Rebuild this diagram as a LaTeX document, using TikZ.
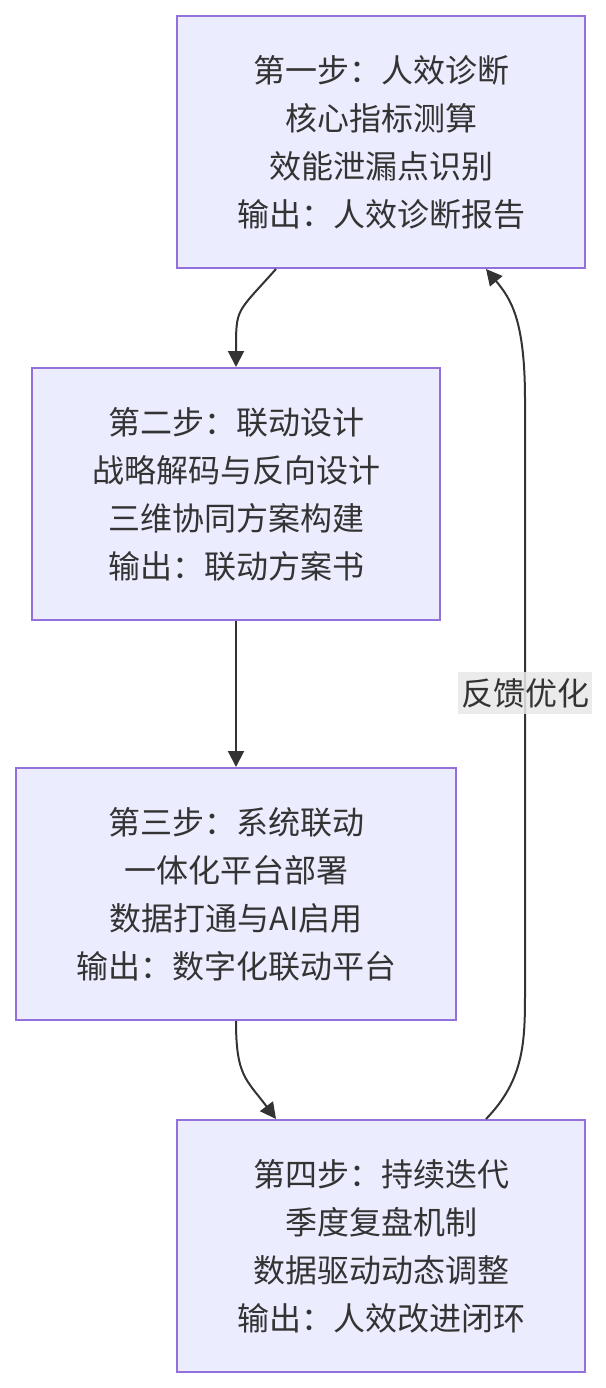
\documentclass[tikz,border=0pt]{standalone}
\usepackage{fontspec}
\usepackage{xcolor}
\usepackage{tikz}
\usetikzlibrary{arrows.meta,positioning,calc}
\newfontfamily\cjk{Noto Sans CJK SC}
\definecolor{boxfill}{HTML}{ECECFF}
\definecolor{boxdraw}{HTML}{9370DB}
\definecolor{textgray}{HTML}{333333}
\definecolor{labelgray}{HTML}{E8E8E8}

\begin{document}
\begin{tikzpicture}[
    x=0.75pt, y=-0.75pt,
    stepbox/.style={rectangle, draw=boxdraw, fill=boxfill, line width=1.5pt, minimum width=306pt, minimum height=189pt, align=center, text=textgray, font=\cjk\fontsize{24}{36}\selectfont, inner sep=0pt},
    line/.style={line width=1.5pt, textgray, -{Triangle[length=12pt,width=12pt]}},
    fbstyle/.style={fill=labelgray, fill opacity=0.85, text opacity=1, text=textgray, font=\cjk\fontsize{24}{36}\selectfont, inner xsep=2pt, inner ysep=5pt}
  ]
    \useasboundingbox (0,0) rectangle (606,1388);
    \def\off{78.75pt}

    % Steps
    \node[stepbox] (step1) at (381,142) {第一步：人效诊断\\核心指标测算\\效能泄漏点识别\\输出：人效诊断报告};
    \node[stepbox] (step2) at (236,494) {第二步：联动设计\\战略解码与反向设计\\三维协同方案构建\\输出：联动方案书};
    \node[stepbox, minimum width=330pt] (step3) at (236,894) {第三步：系统联动\\一体化平台部署\\数据打通与AI启用\\输出：数字化联动平台};
    \node[stepbox] (step4) at (381,1246) {第四步：持续迭代\\季度复盘机制\\数据驱动动态调整\\输出：人效改进闭环};

    % Connectors
    \draw[line] ([xshift=-\off]step1.south) .. controls ($([xshift=-\off]step1.south)+(-40,45)$) and ($(step2.north)+(0,-60)$) .. (step2.north);
    \draw[line] (step2.south) -- (step3.north);
    \draw[line] (step3.south) .. controls ($(step3.south)+(0,55)$) and ($([xshift=-\off]step4.north)+(-30,-40)$) .. ([xshift=-\off]step4.north);

    % Feedback loop
    \coordinate (fbtop) at (525,400);
    \coordinate (fbbot) at (525,990);
    \draw[line] ([xshift=\off]step4.north) .. controls ($([xshift=\off]step4.north)+(39,-40)$) and ($(fbbot)+(0,50)$) .. (fbbot) -- (fbtop) .. controls ($(fbtop)+(0,-80)$) and ($([xshift=\off]step1.south)+(25,30)$) .. ([xshift=\off]step1.south);
    \node[fbstyle] (fb) at (525,693) {反馈优化};
  \end{tikzpicture}
\end{document}
